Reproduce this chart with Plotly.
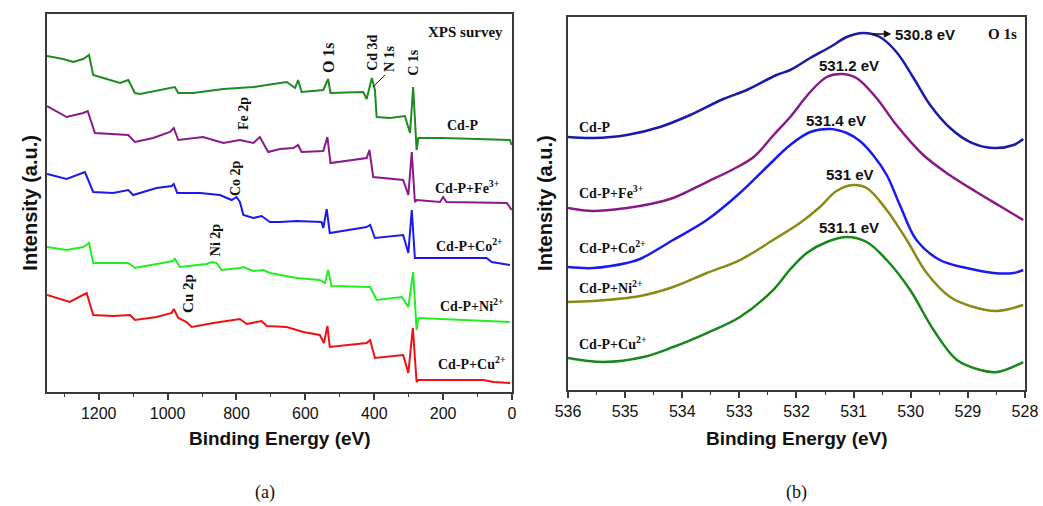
import plotly.graph_objects as go

# ---------------- (a) XPS survey ----------------
survey_be_cdp = [1350,1303,1274,1245,1228,1216,1177,1138,1114,1095,1080,1032,984,979,969,926,838,751,693,654,630,621,611,548,534,527,432,422,407,398,393,354,311,296,287,277,272,200,6,1]
survey_i_cdp = [336,333,330,333,337,317,313,309,312,299,298,301,304,305,299,299,303,305,308,310,304,312,300,302,313,299,300,293,314,302,275,274,276,259,305,242,254,254,252,247]

survey_be_fe = [1350,1293,1245,1232,1211,1158,1114,1095,1042,993,982,969,897,838,790,751,732,708,674,635,621,611,548,536,527,422,414,403,316,301,291,282,277,209,200,190,15,1]
survey_i_fe = [286,275,279,281,259,258,257,250,254,260,264,252,255,249,252,249,255,240,243,244,247,240,241,255,229,234,242,215,212,197,240,190,192,190,195,190,189,182]

survey_be_co = [1350,1293,1240,1216,1158,1114,1100,1032,988,982,972,906,848,814,800,790,780,751,727,703,674,625,553,548,538,529,422,412,398,316,301,291,282,277,74,59,6]
survey_i_co = [218,213,220,200,199,202,197,204,206,208,199,199,197,192,195,190,177,174,176,170,170,171,170,164,183,159,165,167,154,157,139,182,134,134,134,130,127]

survey_be_ni = [1350,1293,1245,1228,1216,1177,1114,1095,1022,984,979,964,887,872,858,843,790,780,751,722,703,625,558,543,534,524,412,393,320,301,287,277,272,6]
survey_i_ni = [145,142,145,149,129,129,129,124,129,131,133,125,128,130,129,122,124,125,121,122,119,114,112,109,122,106,105,92,95,85,120,62,74,70]

survey_be_cu = [1350,1313,1284,1235,1216,1158,1109,1095,1032,988,982,969,945,930,867,790,770,727,712,654,606,558,546,536,529,422,412,398,316,301,288,277,272,83,54,6]
survey_i_cu = [97,93,90,99,77,76,77,72,75,79,83,74,70,65,69,73,68,71,66,65,60,57,49,66,45,49,52,34,37,19,64,10,12,12,10,9]

survey_tickvals = [0, 200, 400, 600, 800, 1000, 1200]

# ---------------- (b) O 1s ----------------
o1s_be_cdp = [536.0,535.56,534.97,534.39,533.86,533.28,532.87,532.35,532.11,531.76,531.41,531.12,530.83,530.54,530.25,529.95,529.66,529.31,528.96,528.55,528.2,528.03]
o1s_i_cdp = [253,252,255,263,275,291,300,315,320,332,343,353,357,353,338,312,285,262,248,242,245,251]

o1s_be_fe = [536.0,535.56,534.97,534.56,534.16,533.57,533.1,532.75,532.4,532.11,531.76,531.47,531.21,530.95,530.6,530.25,529.78,529.32,528.85,528.44,528.03]
o1s_i_fe = [182,179,182,186,192,208,221,233,255,273,298,313,316,312,292,265,235,215,198,184,170]

o1s_be_co = [536.0,535.56,534.97,534.74,534.16,533.57,532.99,532.52,532.11,531.76,531.41,531.12,530.89,530.66,530.42,530.19,529.9,529.49,529.02,528.55,528.2,528.03]
o1s_i_co = [123,122,127,131,150,170,197,223,245,258,261,257,249,235,215,185,150,130,122,117,117,120]

o1s_be_ni = [536.0,535.56,534.74,534.16,533.57,532.99,532.41,531.94,531.59,531.3,531.01,530.77,530.42,530.07,529.72,529.31,528.9,528.5,528.03]
o1s_i_ni = [88,89,94,103,117,130,150,167,183,199,205,202,180,150,117,93,83,79,85]

o1s_be_cu = [536.0,535.38,534.68,534.16,533.57,532.99,532.41,532.12,531.82,531.47,531.12,530.77,530.42,530.01,529.6,529.19,528.78,528.49,528.03]
o1s_i_cu = [32,28,33,43,57,73,100,120,137,148,153,148,130,100,60,30,20,18,28]

o1s_tickvals = [528, 529, 530, 531, 532, 533, 534, 535, 536]

sample_labels = ["Cd-P", "Cd-P+Fe<sup>3+</sup>", "Cd-P+Co<sup>2+</sup>", "Cd-P+Ni<sup>2+</sup>", "Cd-P+Cu<sup>2+</sup>"]
peak_labels = ["530.8 eV", "531.2 eV", "531.4 eV", "531 eV", "531.1 eV"]

survey_colors = ["#1f8a1f", "#8a1a8a", "#1a1aee", "#22ee22", "#ee1111"]
o1s_colors = ["#1a1aa8", "#881a88", "#1a1aee", "#8a8a14", "#1a861a"]

SERIF = "Liberation Serif, Times New Roman, serif"
SANS = "Liberation Sans Narrow, Arial Narrow, Liberation Sans, Arial, sans-serif"

fig = go.Figure()

survey = [(survey_be_cdp, survey_i_cdp), (survey_be_fe, survey_i_fe), (survey_be_co, survey_i_co),
          (survey_be_ni, survey_i_ni), (survey_be_cu, survey_i_cu)]
for (bx, iy), c, name in zip(survey, survey_colors, sample_labels):
    fig.add_trace(go.Scatter(x=bx, y=iy, mode="lines", line=dict(color=c, width=2),
                             name=name, showlegend=False, xaxis="x", yaxis="y"))

o1s = [(o1s_be_cdp, o1s_i_cdp), (o1s_be_fe, o1s_i_fe), (o1s_be_co, o1s_i_co),
       (o1s_be_ni, o1s_i_ni), (o1s_be_cu, o1s_i_cu)]
for (bx, iy), c, name in zip(o1s, o1s_colors, sample_labels):
    fig.add_trace(go.Scatter(x=bx, y=iy, mode="lines", line=dict(color=c, width=2.5, shape="spline", smoothing=1.0),
                             name=name, showlegend=False, xaxis="x2", yaxis="y2"))

axis_common = dict(showline=True, linecolor="#3a3a3a", linewidth=1.5, mirror=True,
                   showgrid=False, zeroline=False, automargin=False)
tickfont = dict(family=SANS, size=16, color="#111111")

fig.update_layout(
    width=1043, height=506,
    margin=dict(l=0, r=0, t=0, b=0, autoexpand=False),
    paper_bgcolor="white", plot_bgcolor="white",
    xaxis=dict(domain=[0.0451, 0.4909], range=[1350, 0], tickvals=survey_tickvals,
               ticks="outside", ticklen=6, tickwidth=1.5, tickcolor="#3a3a3a",
               minor=dict(ticks="outside", ticklen=3, tickwidth=1.2, dtick=100, tick0=0, tickcolor="#3a3a3a"),
               tickfont=tickfont, anchor="y", **axis_common),
    yaxis=dict(domain=[0.2253, 0.9723], range=[0, 378], showticklabels=False, ticks="",
               anchor="x", **axis_common),
    xaxis2=dict(domain=[0.5446, 0.9827], range=[536, 528], tickvals=o1s_tickvals,
                ticks="outside", ticklen=6, tickwidth=1.5, tickcolor="#3a3a3a",
                minor=dict(ticks="outside", ticklen=3, tickwidth=1.2, dtick=0.5, tick0=528, tickcolor="#3a3a3a"),
                tickfont=tickfont, anchor="y2", **axis_common),
    yaxis2=dict(domain=[0.2292, 0.9664], range=[0, 373], showticklabels=False, ticks="",
                anchor="x2", **axis_common),
)

ann = []
def A(text, x, y, xref, yref, size=14, family=SERIF, bold=True, angle=0, xanchor="center", yanchor="middle"):
    t = f"<b>{text}</b>" if bold else text
    ann.append(dict(text=t, x=x, y=y, xref=xref, yref=yref, showarrow=False, textangle=angle,
                    xanchor=xanchor, yanchor=yanchor, font=dict(family=family, size=size, color="#111111")))

# axis titles
A("Intensity (a.u.)", 0.029, 0.60, "paper", "paper", size=20, family=SANS, angle=-90)
A("Intensity (a.u.)", 0.523, 0.60, "paper", "paper", size=20, family=SANS, angle=-90)
A("Binding Energy (eV)", 0.2685, 0.134, "paper", "paper", size=19, family=SANS)
A("Binding Energy (eV)", 0.764, 0.134, "paper", "paper", size=19, family=SANS)
A("(a)", 0.254, 0.026, "paper", "paper", size=18, bold=False)
A("(b)", 0.764, 0.026, "paper", "paper", size=18, bold=False)

# panel (a) labels
A("XPS survey", 20, 360, "x", "y", size=15, xanchor="right")
A("O 1s", 534, 334, "x", "y", size=16, angle=-90)
A("Cd 3d", 407, 339, "x", "y", size=14, angle=-90)
A("N 1s", 357, 333, "x", "y", size=14, angle=-90)
A("C 1s", 288, 330, "x", "y", size=14, angle=-90)
A("Fe 2p", 781, 278, "x", "y", size=14, angle=-90)
A("Co 2p", 804, 214, "x", "y", size=14, angle=-90)
A("Ni 2p", 862, 152, "x", "y", size=14, angle=-90)
A("Cu 2p", 941, 99, "x", "y", size=15, angle=-90)
for lbl, yy, xx in zip(sample_labels, [267, 205, 147, 87, 29], [142, 128, 122, 116, 116]):
    A(lbl, xx, yy, "x", "y", size=14)

# panel (b) labels
A("O 1s", 528.4, 356, "x2", "y2", size=15)
for lbl, yy in zip(sample_labels, [263, 198, 143, 103, 47]):
    A(lbl, 535.84, yy, "x2", "y2", size=14, xanchor="left")
A(peak_labels[0], 530.31, 356, "x2", "y2", size=15, family=SANS, xanchor="left")
A(peak_labels[1], 531.08, 325, "x2", "y2", size=15, family=SANS)
A(peak_labels[2], 531.31, 270, "x2", "y2", size=15, family=SANS)
A(peak_labels[3], 531.06, 216, "x2", "y2", size=15, family=SANS)
A(peak_labels[4], 531.08, 163, "x2", "y2", size=15, family=SANS)

# arrow for 530.8 eV
ann.append(dict(x=530.34, y=356, ax=530.70, ay=356, xref="x2", yref="y2", axref="x2", ayref="y2",
                showarrow=True, arrowhead=2, arrowsize=1, arrowwidth=1.5, arrowcolor="#111111", text=""))

fig.update_layout(annotations=ann)

# N 1s leader line
fig.add_shape(type="line", x0=404, y0=305, x1=369, y1=317, xref="x", yref="y",
              line=dict(color="#111111", width=1))

fig.write_html("out.html")
